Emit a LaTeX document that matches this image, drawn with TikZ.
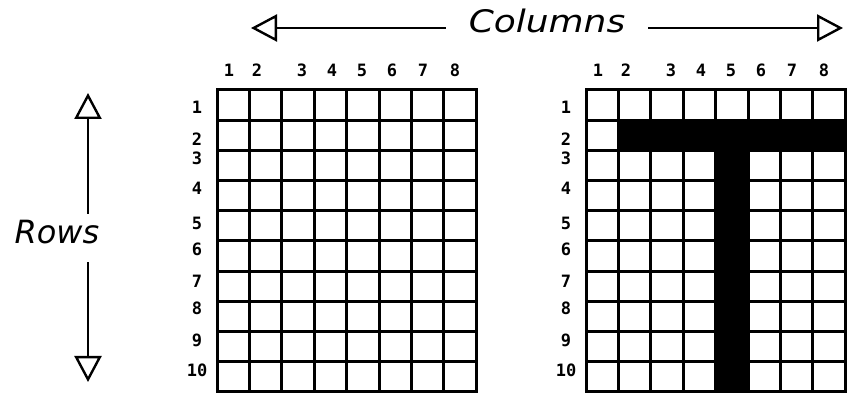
\documentclass[tikz,border=0pt]{standalone}
\usepackage{fontspec}
\usepackage{tikz}
\usetikzlibrary{arrows.meta}
\newfontfamily\digitfont{DejaVu Sans Mono}
\newfontfamily\titlefont{DejaVu Sans}

\tikzset{
    gridline/.style={line width=3pt, line cap=rect},
    numlabel/.style={inner sep=0pt, font=\digitfont\bfseries\fontsize{17}{17}\selectfont},
    headlabel/.style={inner sep=0pt, font=\titlefont\itshape\fontsize{31}{31}\selectfont},
    bigarrow/.style={line width=2pt, -{Triangle[open, length=26pt, width=27pt, line width=2.4pt]}}
}

\begin{document}
\begin{tikzpicture}[x=1pt, y=-1pt]
    \useasboundingbox (0,0) rectangle (847,395);

    % Columns heading with arrows to both sides
    \node[headlabel] (cols) at (547,21) {\scalebox{1.16}[1]{Columns}};
    \coordinate (colL) at (251,28);
    \coordinate (colR) at (843,28);
    \draw[bigarrow] ([xshift=-23pt]cols.west |- colL) -- (colL);
    \draw[bigarrow] ([xshift=23pt]cols.east |- colR) -- (colR);

    % Rows heading with arrows up and down
    \node[headlabel, font=\titlefont\itshape\fontsize{32}{32}\selectfont] (rows) at (57,232) {Rows};
    \coordinate (rowT) at (88,93);
    \coordinate (rowB) at (88,382);
    \draw[bigarrow] ([yshift=6pt]rows.north -| rowT) -- (rowT);
    \draw[bigarrow] ([yshift=-18pt]rows.south -| rowB) -- (rowB);

    % Left grid - empty
    \begin{scope}[xshift=217pt]
        % Column numbers
        \foreach \c/\x in {1/12, 2/40, 3/85, 4/115, 5/145, 6/175, 7/206, 8/238} {
            \node[numlabel] (lc\c) at (\x,70) {\c};
        }
        % Row numbers
        \foreach \r/\y in {1/107, 2/139, 3/158, 4/188, 5/223, 6/249, 7/281, 8/308, 9/340, 10/370} {
            \node[numlabel] (lr\r) at (-20,\y) {\r};
        }
        % Grid lines
        \foreach \i in {0,...,8} {
            \draw[gridline] (\i*32.4,90) -- (\i*32.4,392);
        }
        \foreach \j in {0,...,10} {
            \draw[gridline] (0,90+\j*30.2) -- (259.2,90+\j*30.2);
        }
    \end{scope}

    % Right grid - letter T
    \begin{scope}[xshift=586pt]
        % Column numbers
        \foreach \c/\x in {1/12, 2/40, 3/85, 4/115, 5/145, 6/175, 7/206, 8/238} {
            \node[numlabel] (rc\c) at (\x,70) {\c};
        }
        % Row numbers
        \foreach \r/\y in {1/107, 2/139, 3/158, 4/188, 5/223, 6/249, 7/281, 8/308, 9/340, 10/370} {
            \node[numlabel] (rr\r) at (-20,\y) {\r};
        }
        % Filled cells
        \fill (32.4,120.2) rectangle (259.2,150.4);
        \fill (129.6,150.4) rectangle (162,392);
        % Grid lines
        \foreach \i in {0,...,8} {
            \draw[gridline] (\i*32.4,90) -- (\i*32.4,392);
        }
        \foreach \j in {0,...,10} {
            \draw[gridline] (0,90+\j*30.2) -- (259.2,90+\j*30.2);
        }
    \end{scope}
\end{tikzpicture}
\end{document}
